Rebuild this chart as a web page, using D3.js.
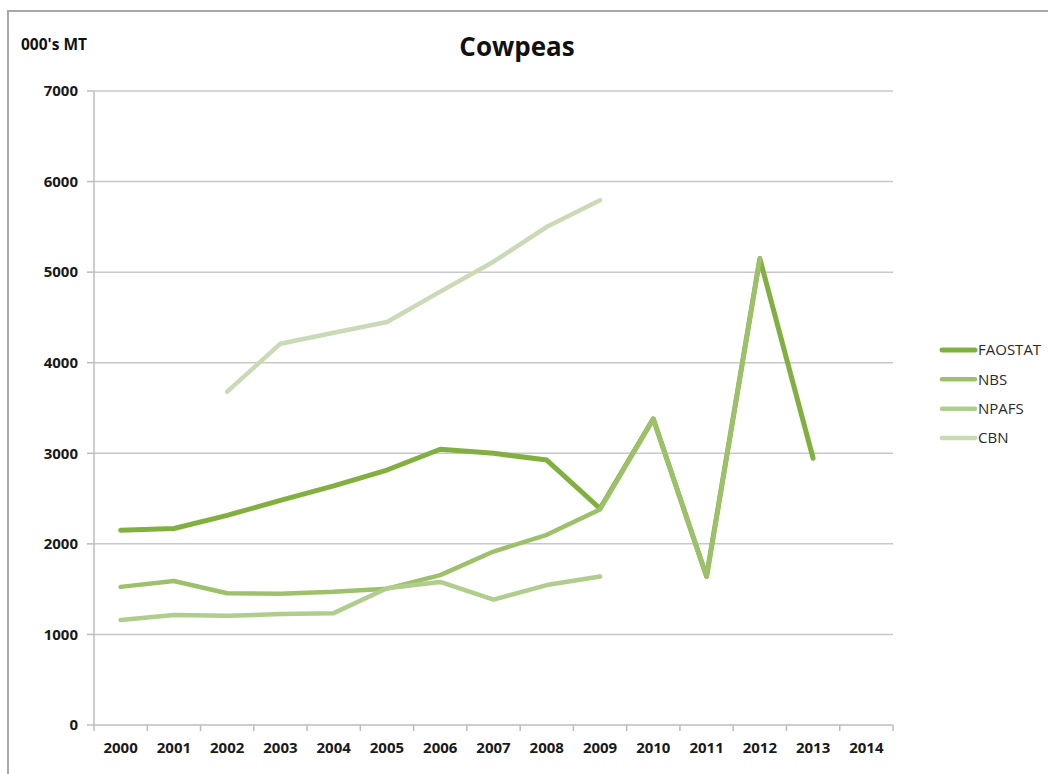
<!DOCTYPE html>
<html>
<head>
<meta charset="utf-8">
<script src="https://cdn.jsdelivr.net/npm/d3@7"></script>
<style>
  body { margin: 0; background: #fff; }
  text { font-family: "Open Sans", "Liberation Sans", sans-serif; }
</style>
</head>
<body>
<svg id="chart" width="1048" height="774"></svg>
<script>
// data (000's MT)
const years = ["2000","2001","2002","2003","2004","2005","2006","2007","2008","2009","2010","2011","2012","2013","2014"];
const faostat = [2150, 2170, 2315, 2480, 2640, 2815, 3045, 3000, 2925, 2390, 3380, 1640, 5150, 2945, null];
const nbs     = [1525, 1590, 1455, 1450, 1470, 1505, 1655, 1915, 2100, 2380, 3380, 1640, 5150, null, null];
const npafs   = [1160, 1215, 1205, 1225, 1235, 1510, 1580, 1385, 1545, 1640, null, null, null, null, null];
const cbn     = [null, null, 3680, 4210, 4330, 4450, 4785, 5115, 5500, 5795, null, null, null, null, null];
const yTicks  = [0, 1000, 2000, 3000, 4000, 5000, 6000, 7000];

const series = [
    {name:"FAOSTAT", values:faostat, color:"#82b040", width:5},
    {name:"NBS",     values:nbs,     color:"#9dc16a", width:4.5},
    {name:"NPAFS",   values:npafs,   color:"#b0cd8d", width:4.5},
    {name:"CBN",     values:cbn,     color:"#cadab6", width:4.5}
];

const svg = d3.select("#chart");

// outer chart frame
svg.append("rect")
    .attr("x", 8).attr("y", 11)
    .attr("width", 1100).attr("height", 800)
    .attr("fill", "#fff")
    .attr("stroke", "#a8a8a8")
    .attr("stroke-width", 2);

const x = d3.scaleBand().domain(years).range([94, 893]);
const y = d3.scaleLinear().domain([0, 7000]).range([725, 91]);

// gridlines
svg.append("g").selectAll("line")
    .data(yTicks.filter(d=>d>0))
    .enter().append("line")
    .attr("x1", 94).attr("x2", 893)
    .attr("y1", d=>y(d)).attr("y2", d=>y(d))
    .attr("stroke", "#c8c8c8")
    .attr("stroke-width", 1.5);

// y axis
let yAx = svg.append("g");
yAx.append("line")
    .attr("x1", 94).attr("x2", 94)
    .attr("y1", y(0)).attr("y2", y(7000))
    .attr("stroke", "#bcbcbc").attr("stroke-width", 1.5);
yAx.selectAll(".tk").data(yTicks).enter().append("line")
    .attr("class","tk")
    .attr("x1", 87).attr("x2", 94)
    .attr("y1", d=>y(d)).attr("y2", d=>y(d))
    .attr("stroke", "#bcbcbc").attr("stroke-width", 1.5);
yAx.selectAll("text").data(yTicks).enter().append("text")
    .attr("x", 78)
    .attr("y", d=>y(d))
    .attr("dy", "0.35em")
    .attr("text-anchor", "end")
    .attr("font-size", 15)
    .attr("font-weight", "bold")
    .attr("fill", "#1a1a1a")
    .text(d=>d);

// x axis
let xAx = svg.append("g");
xAx.append("line")
    .attr("x1", 94).attr("x2", 893)
    .attr("y1", y(0)).attr("y2", y(0))
    .attr("stroke", "#bcbcbc").attr("stroke-width", 1.5);
xAx.selectAll(".tk").data(years.concat(["end"])).enter().append("line")
    .attr("class","tk")
    .attr("x1", d=>d==="end" ? x.range()[1] : x(d))
    .attr("x2", d=>d==="end" ? x.range()[1] : x(d))
    .attr("y1", y(0)).attr("y2", y(0)+6)
    .attr("stroke", "#bcbcbc").attr("stroke-width", 1.5);
xAx.selectAll("text").data(years).enter().append("text")
    .attr("x", d=>x(d)+x.bandwidth()/2)
    .attr("y", 748)
    .attr("dy", "0.35em")
    .attr("text-anchor", "middle")
    .attr("font-size", 15)
    .attr("font-weight", "bold")
    .attr("fill", "#1a1a1a")
    .text(d=>d);

// lines
const line = d3.line()
    .defined(d=>d.v!=null)
    .x(d=>x(d.year)+x.bandwidth()/2)
    .y(d=>y(d.v));

svg.append("g").selectAll("path")
    .data(series)
    .enter().append("path")
    .attr("d", s=>line(years.map((yr,i)=>({year:yr, v:s.values[i]}))))
    .attr("fill", "none")
    .attr("stroke", s=>s.color)
    .attr("stroke-width", s=>s.width)
    .attr("stroke-linejoin", "round")
    .attr("stroke-linecap", "round");

// titles
svg.append("text")
    .attr("x", 517).attr("y", 47)
    .attr("dy", "0.35em")
    .attr("text-anchor", "middle")
    .attr("font-size", 26)
    .attr("font-weight", "bold")
    .attr("fill", "#111")
    .text("Cowpeas");
svg.append("text")
    .attr("x", 21).attr("y", 45)
    .attr("dy", "0.35em")
    .attr("font-size", 15.5)
    .attr("font-weight", "bold")
    .attr("fill", "#111")
    .text("000's MT");

// legend
const legendY = d3.scalePoint().domain(series.map(s=>s.name)).range([350, 438]);
let lg = svg.append("g").selectAll("g")
    .data(series)
    .enter().append("g")
    .attr("transform", s=>`translate(0,${legendY(s.name)})`);
lg.append("line")
    .attr("x1", 942).attr("x2", 975)
    .attr("y1", 0).attr("y2", 0)
    .attr("stroke", s=>s.color)
    .attr("stroke-width", s=>s.width)
    .attr("stroke-linecap", "round");
lg.append("text")
    .attr("x", 978).attr("y", 0)
    .attr("dy", "0.35em")
    .attr("font-size", 15)
    .attr("fill", "#2a2a2a")
    .text(s=>s.name);
</script>
</body>
</html>
